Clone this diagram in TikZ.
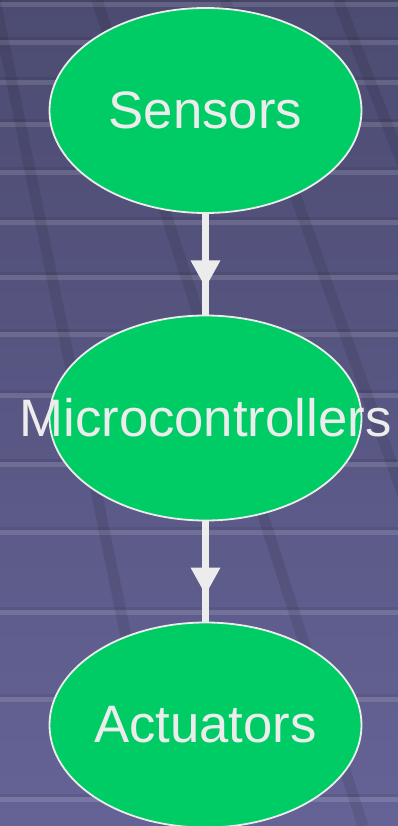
\documentclass[tikz,border=0pt]{standalone}
\usepackage{fontspec}
\setmainfont{Liberation Sans}
\usetikzlibrary{shapes.geometric,arrows.meta,decorations.markings}

\definecolor{slidetop}{RGB}{76,75,113}
\definecolor{slidebottom}{RGB}{101,99,150}
\definecolor{blockgreen}{RGB}{0,204,102}
\definecolor{paleline}{RGB}{236,236,236}

\tikzset{
    block/.style={ellipse, draw=paleline, line width=1.8pt, fill=blockgreen,
        minimum width=312pt, minimum height=205pt, inner sep=0pt,
        text=paleline, font=\fontsize{52.7}{60}\selectfont},
    flow/.style={draw=paleline, line width=7pt, postaction={decorate},
        decoration={markings, mark=at position 0.73 with
            {\arrow{Triangle[width=30pt,length=27pt,line width=0pt]}}}},
    tileband/.style={white, opacity=0.13},
    tileshade/.style={black, opacity=0.07},
    floorline/.style={black, opacity=0.09, line width=11pt}
}

\begin{document}
\begin{tikzpicture}[x=1pt, y=-1pt]
    \useasboundingbox (0,0) rectangle (398,826);
    % slide background
    \fill[top color=slidetop, bottom color=slidebottom] (0,0) rectangle (398,826);
    \foreach \y in {2,40,80,122,170,220,275,332,393,462,530,610,697,797} {
        \fill[tileshade] (0,\y-3) rectangle (398,\y);
        \fill[tileband] (0,\y) rectangle (398,\y+5);
    }
    \draw[floorline] (-5,0) -- (165,826);
    \draw[floorline] (97,0) -- (363,826);
    \draw[floorline] (225,0) -- (522,826);
    \draw[floorline] (338,0) -- (405,170);

    % blocks
    \node[block] (sensors) at (205.5,110.5) {\makebox[0pt]{Sensors}};
    \node[block] (micro) at (205.5,418) {\makebox[0pt]{Microcontrollers}};
    \node[block] (actuators) at (205.5,725) {\makebox[0pt]{Actuators}};

    \draw[flow] (sensors) -- (micro);
    \draw[flow] (micro) -- (actuators);
\end{tikzpicture}
\end{document}
